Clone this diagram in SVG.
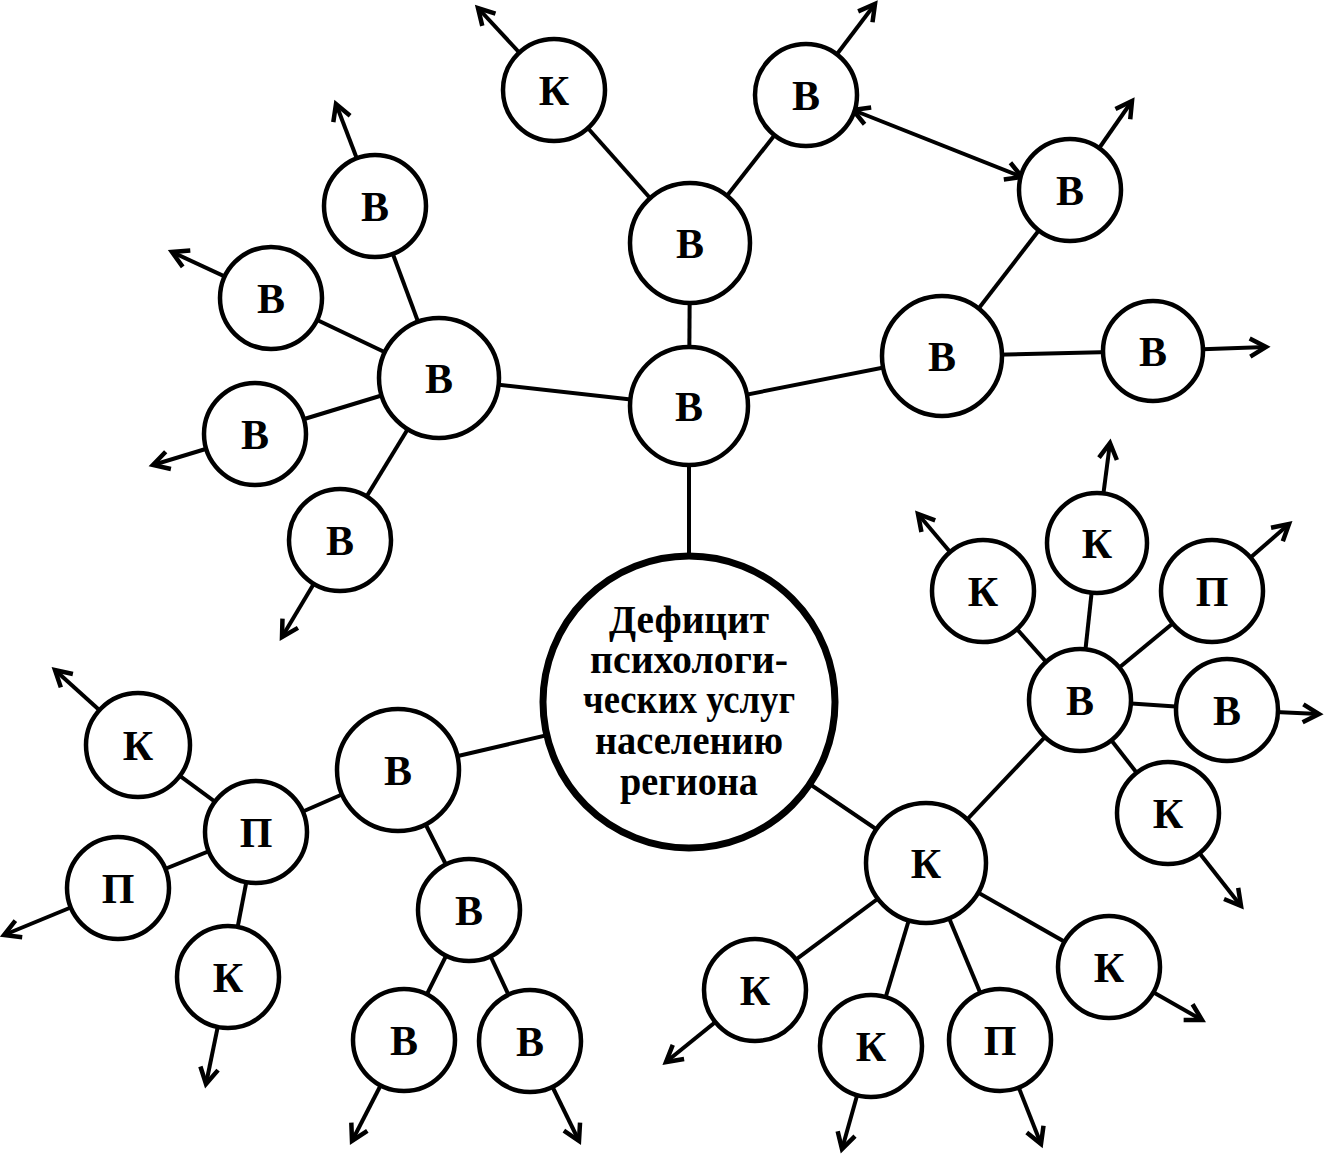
<svg xmlns="http://www.w3.org/2000/svg" width="1324" height="1154" viewBox="0 0 1324 1154">
<style>
  .ln { stroke:#000; stroke-width:4; fill:none; }
  .ar { stroke:#000; stroke-width:4; fill:none; marker-end:url(#ah); }
  .nd { fill:#fff; stroke:#000; stroke-width:4.5; }
  .lb { font-family:"Liberation Serif","Times New Roman",serif; font-weight:bold; font-size:42px; text-anchor:middle; fill:#000; }
  .ct { font-family:"Liberation Serif","Times New Roman",serif; font-weight:bold; font-size:39px; text-anchor:middle; fill:#000; }
</style>
<defs>
  <marker id="ah" viewBox="-20 -13 27 26" refX="0" refY="0" markerWidth="27" markerHeight="26" markerUnits="userSpaceOnUse" orient="auto-start-reverse">
    <path d="M-16,-9 L0,0 L-16,9" fill="none" stroke="#000" stroke-width="4.5"/>
  </marker>
</defs>
<rect width="1324" height="1154" fill="#fff"/>
<g id="connectors">
  <line class="ln" x1="689" y1="406" x2="690" y2="243"/>
  <line class="ln" x1="690" y1="243" x2="554" y2="90"/>
  <line class="ln" x1="690" y1="243" x2="806" y2="95"/>
  <line class="ln" x1="689" y1="406" x2="439" y2="378"/>
  <line class="ln" x1="689" y1="406" x2="942" y2="356"/>
  <line class="ln" x1="942" y1="356" x2="1070" y2="190"/>
  <line class="ln" x1="942" y1="356" x2="1153" y2="351"/>
  <line class="ln" x1="439" y1="378" x2="375" y2="206"/>
  <line class="ln" x1="439" y1="378" x2="271" y2="298"/>
  <line class="ln" x1="439" y1="378" x2="255" y2="434"/>
  <line class="ln" x1="439" y1="378" x2="340" y2="540"/>
  <line class="ln" x1="689" y1="406" x2="689" y2="702"/>
  <line class="ln" x1="689" y1="702" x2="398" y2="770"/>
  <line class="ln" x1="689" y1="702" x2="926" y2="863"/>
  <line class="ln" x1="398" y1="770" x2="256" y2="832"/>
  <line class="ln" x1="398" y1="770" x2="469" y2="910"/>
  <line class="ln" x1="256" y1="832" x2="138" y2="745"/>
  <line class="ln" x1="256" y1="832" x2="118" y2="888"/>
  <line class="ln" x1="256" y1="832" x2="228" y2="977"/>
  <line class="ln" x1="469" y1="910" x2="404" y2="1040"/>
  <line class="ln" x1="469" y1="910" x2="530" y2="1041"/>
  <line class="ln" x1="926" y1="863" x2="1080" y2="700"/>
  <line class="ln" x1="926" y1="863" x2="755" y2="990"/>
  <line class="ln" x1="926" y1="863" x2="871" y2="1046"/>
  <line class="ln" x1="926" y1="863" x2="1000" y2="1040"/>
  <line class="ln" x1="926" y1="863" x2="1109" y2="967"/>
  <line class="ln" x1="1080" y1="700" x2="983" y2="591"/>
  <line class="ln" x1="1080" y1="700" x2="1097" y2="543"/>
  <line class="ln" x1="1080" y1="700" x2="1212" y2="591"/>
  <line class="ln" x1="1080" y1="700" x2="1227" y2="710"/>
  <line class="ln" x1="1080" y1="700" x2="1168" y2="813"/>
  <line class="ar" x1="554" y1="90" x2="478" y2="8"/>
  <line class="ar" x1="806" y1="95" x2="875" y2="4"/>
  <line class="ar" x1="1070" y1="190" x2="1132" y2="101"/>
  <line class="ar" x1="1153" y1="351" x2="1266" y2="347"/>
  <line class="ar" x1="375" y1="206" x2="336" y2="104"/>
  <line class="ar" x1="271" y1="298" x2="172" y2="252"/>
  <line class="ar" x1="255" y1="434" x2="153" y2="465"/>
  <line class="ar" x1="340" y1="540" x2="282" y2="637"/>
  <line class="ar" x1="138" y1="745" x2="55" y2="670"/>
  <line class="ar" x1="118" y1="888" x2="4" y2="935"/>
  <line class="ar" x1="228" y1="977" x2="206" y2="1084"/>
  <line class="ar" x1="404" y1="1040" x2="352" y2="1141"/>
  <line class="ar" x1="530" y1="1041" x2="579" y2="1141"/>
  <line class="ar" x1="755" y1="990" x2="666" y2="1062"/>
  <line class="ar" x1="871" y1="1046" x2="842" y2="1149"/>
  <line class="ar" x1="1000" y1="1040" x2="1041" y2="1144"/>
  <line class="ar" x1="1109" y1="967" x2="1202" y2="1020"/>
  <line class="ar" x1="1168" y1="813" x2="1241" y2="906"/>
  <line class="ar" x1="1227" y1="710" x2="1319" y2="714"/>
  <line class="ar" x1="1212" y1="591" x2="1289" y2="524"/>
  <line class="ar" x1="1097" y1="543" x2="1110" y2="443"/>
  <line class="ar" x1="983" y1="591" x2="918" y2="514"/>
  <line class="ln" x1="853" y1="110" x2="1022" y2="177" marker-start="url(#ah)" marker-end="url(#ah)"/>
</g>
<g id="center">
  <circle cx="689" cy="702" r="146" fill="#fff" stroke="#000" stroke-width="7"/>
  <text class="ct" x="689" y="633" textLength="160" lengthAdjust="spacingAndGlyphs">Дефицит</text>
  <text class="ct" x="689" y="673" textLength="198" lengthAdjust="spacingAndGlyphs">психологи-</text>
  <text class="ct" x="689" y="713" textLength="212" lengthAdjust="spacingAndGlyphs">ческих услуг</text>
  <text class="ct" x="689" y="754" textLength="188" lengthAdjust="spacingAndGlyphs">населению</text>
  <text class="ct" x="689" y="795" textLength="138" lengthAdjust="spacingAndGlyphs">региона</text>
</g>
<g id="b1"><circle class="nd" cx="689" cy="406" r="59"/><text class="lb" x="689" y="421">В</text></g>
<g id="b2"><circle class="nd" cx="690" cy="243" r="60"/><text class="lb" x="690" y="258">В</text></g>
<g id="k3"><circle class="nd" cx="554" cy="90" r="51"/><text class="lb" x="554" y="105">К</text></g>
<g id="b4"><circle class="nd" cx="806" cy="95" r="51"/><text class="lb" x="806" y="110">В</text></g>
<g id="b5"><circle class="nd" cx="1070" cy="190" r="51"/><text class="lb" x="1070" y="205">В</text></g>
<g id="b6"><circle class="nd" cx="942" cy="356" r="60"/><text class="lb" x="942" y="371">В</text></g>
<g id="b7"><circle class="nd" cx="1153" cy="351" r="50"/><text class="lb" x="1153" y="366">В</text></g>
<g id="b8"><circle class="nd" cx="439" cy="378" r="60"/><text class="lb" x="439" y="393">В</text></g>
<g id="b9"><circle class="nd" cx="375" cy="206" r="51"/><text class="lb" x="375" y="221">В</text></g>
<g id="b10"><circle class="nd" cx="271" cy="298" r="51"/><text class="lb" x="271" y="313">В</text></g>
<g id="b11"><circle class="nd" cx="255" cy="434" r="51"/><text class="lb" x="255" y="449">В</text></g>
<g id="b12"><circle class="nd" cx="340" cy="540" r="51"/><text class="lb" x="340" y="555">В</text></g>
<g id="b13"><circle class="nd" cx="398" cy="770" r="61"/><text class="lb" x="398" y="785">В</text></g>
<g id="p14"><circle class="nd" cx="256" cy="832" r="51"/><text class="lb" x="256" y="847">П</text></g>
<g id="k15"><circle class="nd" cx="138" cy="745" r="52"/><text class="lb" x="138" y="760">К</text></g>
<g id="p16"><circle class="nd" cx="118" cy="888" r="51"/><text class="lb" x="118" y="903">П</text></g>
<g id="k17"><circle class="nd" cx="228" cy="977" r="51"/><text class="lb" x="228" y="992">К</text></g>
<g id="b18"><circle class="nd" cx="469" cy="910" r="51"/><text class="lb" x="469" y="925">В</text></g>
<g id="b19"><circle class="nd" cx="404" cy="1040" r="51"/><text class="lb" x="404" y="1055">В</text></g>
<g id="b20"><circle class="nd" cx="530" cy="1041" r="51"/><text class="lb" x="530" y="1056">В</text></g>
<g id="k21"><circle class="nd" cx="926" cy="863" r="60"/><text class="lb" x="926" y="878">К</text></g>
<g id="b22"><circle class="nd" cx="1080" cy="700" r="51"/><text class="lb" x="1080" y="715">В</text></g>
<g id="k23"><circle class="nd" cx="983" cy="591" r="51"/><text class="lb" x="983" y="606">К</text></g>
<g id="k24"><circle class="nd" cx="1097" cy="543" r="50"/><text class="lb" x="1097" y="558">К</text></g>
<g id="p25"><circle class="nd" cx="1212" cy="591" r="51"/><text class="lb" x="1212" y="606">П</text></g>
<g id="b26"><circle class="nd" cx="1227" cy="710" r="51"/><text class="lb" x="1227" y="725">В</text></g>
<g id="k27"><circle class="nd" cx="1168" cy="813" r="51"/><text class="lb" x="1168" y="828">К</text></g>
<g id="k28"><circle class="nd" cx="1109" cy="967" r="51"/><text class="lb" x="1109" y="982">К</text></g>
<g id="k29"><circle class="nd" cx="755" cy="990" r="51"/><text class="lb" x="755" y="1005">К</text></g>
<g id="k30"><circle class="nd" cx="871" cy="1046" r="51"/><text class="lb" x="871" y="1061">К</text></g>
<g id="p31"><circle class="nd" cx="1000" cy="1040" r="51"/><text class="lb" x="1000" y="1055">П</text></g>
</svg>
